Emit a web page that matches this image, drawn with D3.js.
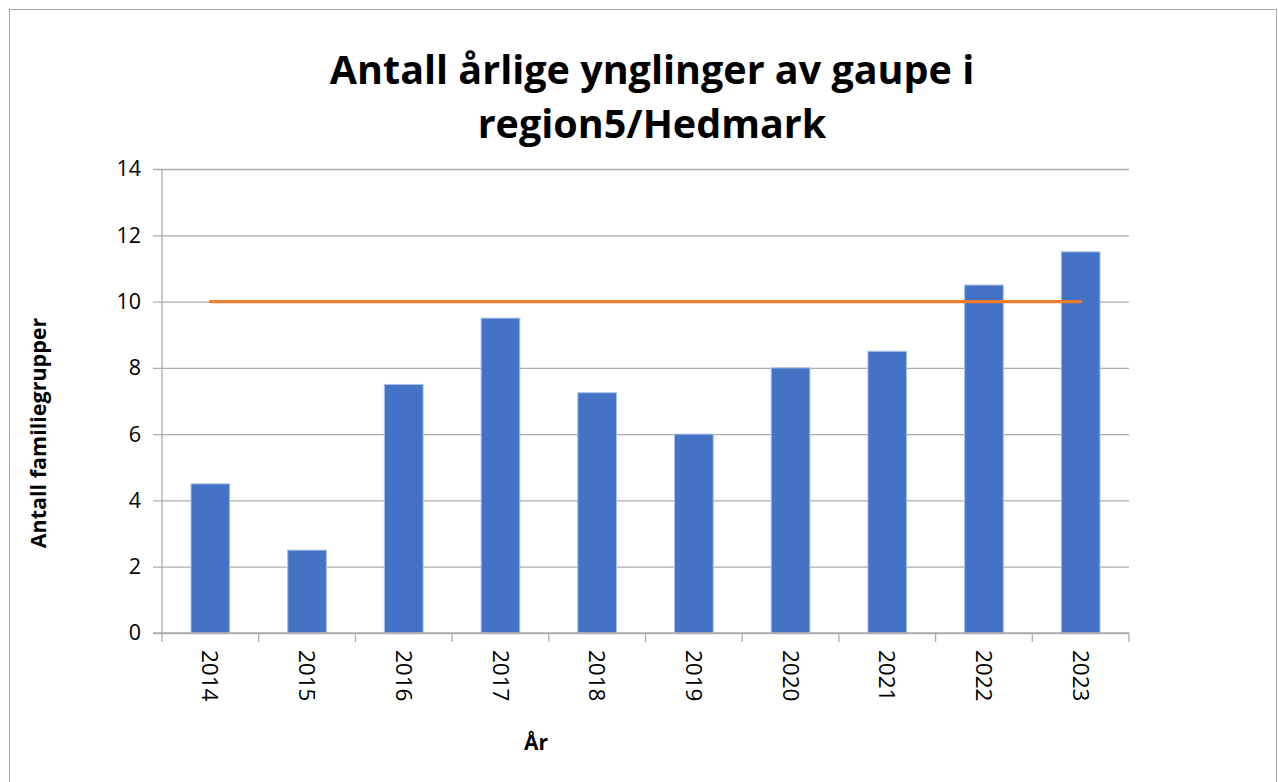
<!DOCTYPE html>
<html><head><meta charset="utf-8">
<script src="https://cdn.jsdelivr.net/npm/d3@7"></script>
<style>body{margin:0;background:#fff}svg{display:block}</style>
</head><body>
<svg id="c" width="1278" height="782"></svg>
<script>
const years = ["2014","2015","2016","2017","2018","2019","2020","2021","2022","2023"];
const familiegrupper = [4.5, 2.5, 7.5, 9.5, 7.25, 6, 8, 8.5, 10.5, 11.5];
const maal = [10,10,10,10,10,10,10,10,10,10];
const yTicks = [0,2,4,6,8,10,12,14];
const titleLines = ["Antall årlige ynglinger av gaupe i", "region5/Hedmark"];

const svg = d3.select("#c");
const font = "'Open Sans', 'Noto Sans', sans-serif";
const m = {l:162, r:1129, t:169, b:633};

svg.append("rect").attr("x",9.5).attr("y",9.5).attr("width",1267).attr("height",780)
  .attr("fill","#fff").attr("stroke","#a6a6a6").attr("stroke-width",1);

const x = d3.scaleBand().domain(years).range([m.l, m.r]).paddingInner(0.6).paddingOuter(0.3);
const xb = d3.scaleBand().domain(years).range([m.l, m.r]);
const y = d3.scaleLinear().domain([0,14]).range([m.b, m.t]);

// gridlines + y axis
const yAxis = d3.axisLeft(y).tickValues(yTicks).tickSize(m.r - m.l + 9).tickPadding(12).tickFormat(d3.format("d"));
const gy = svg.append("g").attr("transform",`translate(${m.r},0)`).call(yAxis);
gy.select(".domain").remove();
gy.selectAll(".tick line").attr("stroke","#adadad").attr("stroke-width",1.3);
gy.selectAll(".tick text").attr("font-family",font).attr("font-size",21.5).attr("fill","#000");

svg.append("line").attr("x1",m.l).attr("x2",m.l).attr("y1",m.t).attr("y2",m.b)
  .attr("stroke","#adadad").attr("stroke-width",1.3);

// bars
svg.append("g").selectAll("rect").data(years).join("rect")
  .attr("x", d => x(d)).attr("width", x.bandwidth())
  .attr("y", (d,i) => y(familiegrupper[i])).attr("height", (d,i) => y(0) - y(familiegrupper[i]))
  .attr("fill","#4472C4").attr("stroke","#a9c0ea").attr("stroke-width",1);

// x axis
const gx = svg.append("g").attr("transform",`translate(0,${m.b})`);
gx.append("line").attr("x1",m.l - 9).attr("x2",m.r).attr("stroke","#adadad").attr("stroke-width",1.6);
const bounds = years.map(d => xb(d)).concat([m.r]);
gx.selectAll("line.t").data(bounds).join("line").attr("class","t")
  .attr("x1",d=>d).attr("x2",d=>d).attr("y1",0).attr("y2",9)
  .attr("stroke","#adadad").attr("stroke-width",1.3);
gx.selectAll("text").data(years).join("text")
  .attr("transform", d => `translate(${x(d)+x.bandwidth()/2},17) rotate(90)`)
  .attr("dy","0.35em").attr("font-family",font).attr("font-size",22.5).attr("fill","#000")
  .text(d => d);

// target line
const line = d3.line().x((d,i) => x(years[i]) + x.bandwidth()/2).y(d => y(d));
svg.append("path").datum(maal).attr("d", line).attr("fill","none")
  .attr("stroke","#ED7D31").attr("stroke-width",3.2).attr("stroke-linecap","round");

// title
svg.append("text").attr("x",652).attr("y",0).attr("text-anchor","middle")
  .attr("font-family",font).attr("font-weight","bold").attr("font-size",39.5).attr("fill","#000")
  .selectAll("tspan").data(titleLines).join("tspan")
  .attr("x",652).attr("y",(d,i)=>84 + i*54).text(d=>d);

// axis titles
svg.append("text").attr("transform","translate(46,433) rotate(-90)").attr("text-anchor","middle")
  .attr("font-family",font).attr("font-weight","bold").attr("font-size",21.5).text("Antall familiegrupper");
svg.append("text").attr("x",536).attr("y",750).attr("text-anchor","middle")
  .attr("font-family",font).attr("font-weight","bold").attr("font-size",21).text("År");
</script>
</body></html>
